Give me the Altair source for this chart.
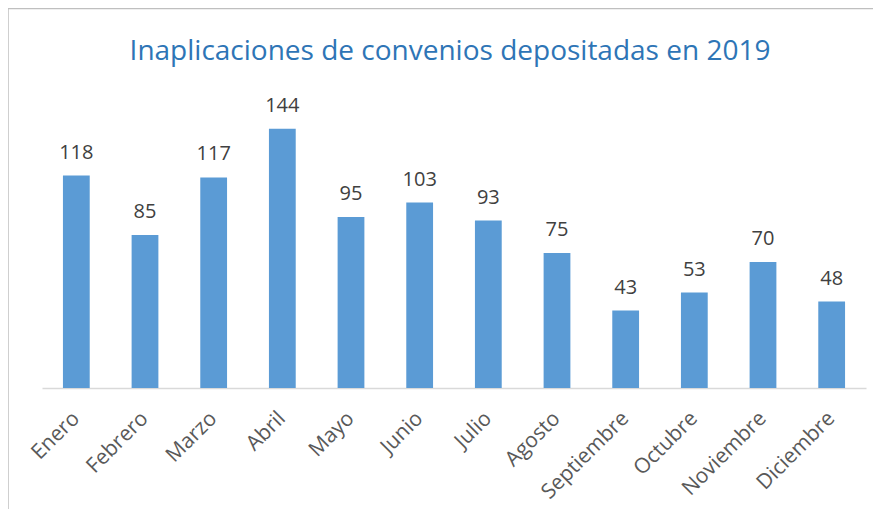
import altair as alt
import pandas as pd

meses = ["Enero", "Febrero", "Marzo", "Abril", "Mayo", "Junio", "Julio",
         "Agosto", "Septiembre", "Octubre", "Noviembre", "Diciembre"]
valores = [118, 85, 117, 144, 95, 103, 93, 75, 43, 53, 70, 48]

df = pd.DataFrame({"mes": meses, "valor": valores})

W, H = 824, 288

x = alt.X("mes:N", sort=meses, title=None,
          scale=alt.Scale(paddingInner=0.61, paddingOuter=0.305),
          axis=alt.Axis(labelAngle=-45, labelAlign="right", labelBaseline="middle",
                        labelPadding=27, labelFontSize=21, labelFont="Open Sans",
                        labelColor="#595959", ticks=False, domainColor="#D9D9D9",
                        domainWidth=1.5, grid=False))
y = alt.Y("valor:Q", title=None, scale=alt.Scale(domain=[0, 160]), axis=None)

base = alt.Chart(df)
bars = base.mark_bar(color="#5B9BD5").encode(x=x, y=y)
labels = base.mark_text(baseline="alphabetic", dy=-17, fontSize=20,
                        font="Open Sans", color="#404040").encode(
    x=x, y=y, text="valor:Q")

one = pd.DataFrame({"a": [0]})
border_top = alt.Chart(one).mark_rule(
    stroke="#BFBFBF", strokeWidth=1.5, clip=False).encode(
    x=alt.value(-34), x2=alt.value(W + 7), y=alt.value(-91.5))
border_left = alt.Chart(one).mark_rule(
    stroke="#BFBFBF", strokeWidth=1.5, clip=False).encode(
    x=alt.value(-34), y=alt.value(-92), y2=alt.value(H + 121))

title = alt.Chart(pd.DataFrame({"t": ["Inaplicaciones de convenios depositadas en 2019"]})).mark_text(
    fontSize=28, font="Open Sans", color="#2E75B6", align="center",
    baseline="alphabetic").encode(
    x=alt.value(408), y=alt.value(-40), text="t:N")

chart = alt.layer(border_top, border_left, bars, labels, title).properties(
    width=W, height=H,
    autosize=alt.AutoSizeParams(type="none"),
    padding={"left": 34, "top": 92, "right": 7, "bottom": 121},
).configure_view(stroke=None)

chart.save("out.html", embed_options={"renderer": "svg", "actions": False})
